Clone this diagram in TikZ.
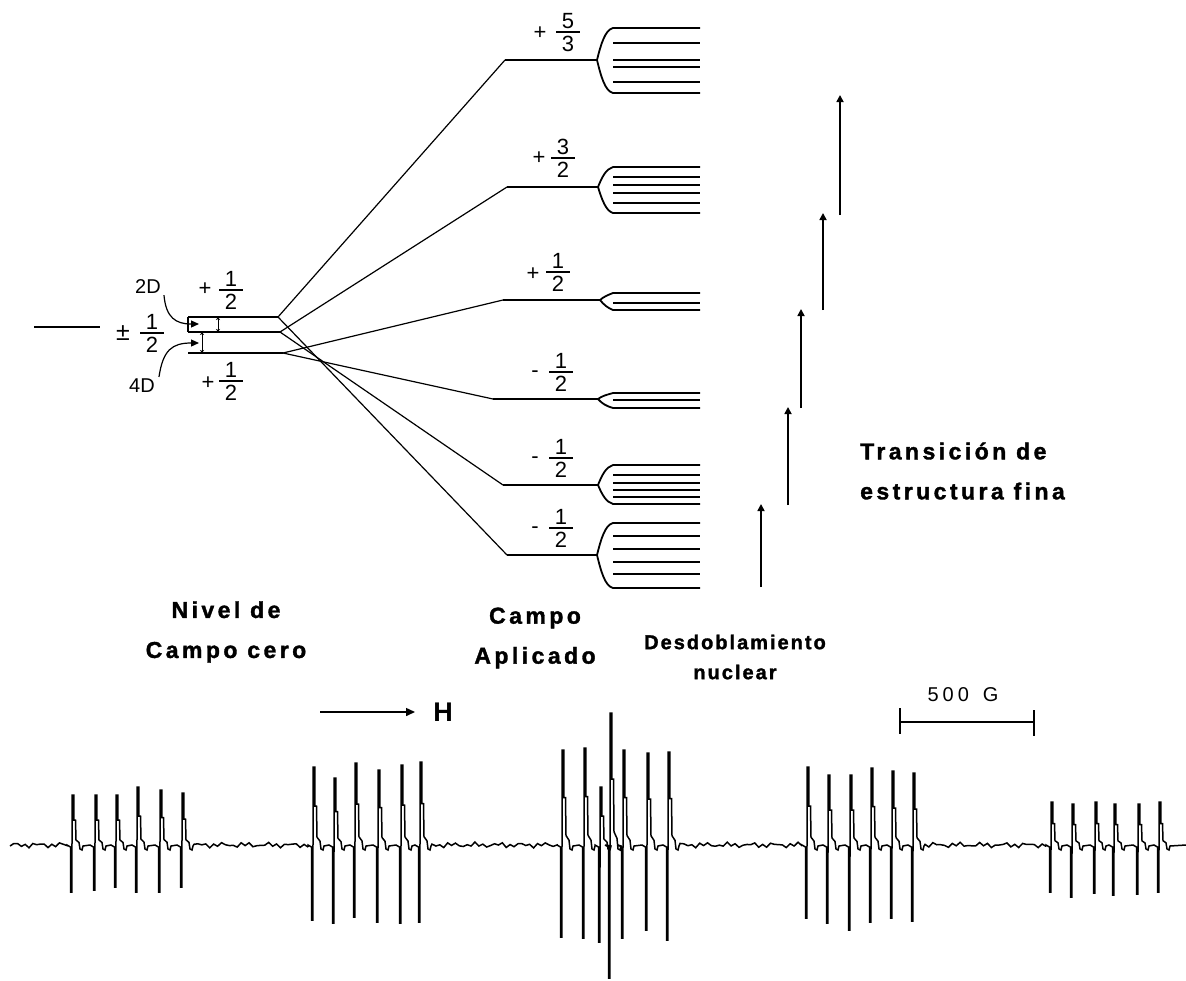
\documentclass[tikz,border=0pt]{standalone}
\usepackage{fontspec}
\setmainfont{Liberation Sans}
\newfontfamily\boldlbl[LetterSpace=15,FakeBold=1.5]{Liberation Sans Bold}
\newfontfamily\boldsm[LetterSpace=10,FakeBold=1.5]{Liberation Sans Bold}
\newfontfamily\hfont{Liberation Sans Bold}
\newfontfamily\widefont[LetterSpace=20]{Liberation Sans}
\usetikzlibrary{arrows.meta}
\newcommand\frc[5]{%
  \node[dig] (#1n) at (#2,{#3-11}) {#4};
  \node[dig] (#1d) at (#2,{#3+12}) {#5};
  \draw[fbar] ({#2-12},#3) -- ({#2+12},#3);}
\newcommand\fan[6]{%
  \coordinate (#1) at (#2,#3);
  \draw[hf] (#1) .. controls ({#2+4},{#3-0.5*(#3-#4)}) and ({#2+8},{#4+2}) .. (613,#4) -- (700,#4);
  \draw[hf] (#1) .. controls ({#2+4},{#3+0.5*(#5-#3)}) and ({#2+8},{#5-2}) .. (613,#5) -- (700,#5);
  \foreach \yy in {#6} {\draw[hf] (613,\yy) -- (700,\yy);}}
\def\B{845}
\def\nz{\B+1.8*sin(mod(\x,9)*40)+1.2*sin(mod(\x,23)*15.65+30)}
\begin{document}
\begin{tikzpicture}[x=1pt,y=-1pt,
  lvl/.style={line width=1.7pt},
  diag/.style={line width=1.2pt},
  hf/.style={line width=1.8pt},
  fbar/.style={line width=1.3pt},
  tarr/.style={line width=1.6pt,-{Triangle[length=7pt,width=7pt]}},
  carr/.style={line width=1.2pt,-{Triangle[length=8pt,width=7pt]}},
  dimm/.style={line width=1pt,{Stealth[length=3pt,width=4pt]}-{Stealth[length=3pt,width=4pt]}},
  lbl/.style={font=\boldlbl\fontsize{23}{40}\selectfont,inner sep=0pt,align=center},
  lblsm/.style={font=\boldsm\fontsize{20}{30}\selectfont,inner sep=0pt,align=center},
  dig/.style={font=\fontsize{22}{22}\selectfont,inner sep=0pt},
  num/.style={font=\fontsize{20}{20}\selectfont,inner sep=0pt},
  spec/.style={line width=1.5pt,line join=miter,miter limit=2},
]
\fill[white] (0,0) rectangle (1186,980);
\useasboundingbox (0,0) rectangle (1186,980);

% ---------- zero field ----------
\coordinate (Z0a) at (34,327); \coordinate (Z0b) at (100,327);
\draw[lvl] (Z0a) -- (Z0b);
\node[font=\fontsize{25}{25}\selectfont,inner sep=0pt] (pm) at (123,333) {±};
\frc{fz}{152}{333}{1}{2}

\coordinate (ZTa) at (188,317); \coordinate (ZTb) at (278,317);
\coordinate (ZMa) at (188,332); \coordinate (ZMb) at (280,332);
\coordinate (ZBa) at (188,353); \coordinate (ZBb) at (283,353);
\draw[lvl] (ZTa) -- (ZTb);
\draw[lvl] (ZMa) -- (ZMb);
\draw[lvl] (ZBa) -- (ZBb);
\draw[line width=1.3pt] (ZTa) -- (ZMa);
\coordinate (d1a) at (218,317); \coordinate (d1b) at (218,332);
\coordinate (d2a) at (202,332); \coordinate (d2b) at (202,353);
\draw[dimm] (d1a) -- (d1b);
\draw[dimm] (d2a) -- (d2b);

\node[dig] (pt) at (205,289) {+};
\frc{ft}{231}{290}{1}{2}
\node[dig] (pb) at (208,383) {+};
\frc{fb}{231}{381}{1}{2}

\node[num] (l2D) at (148,287) {2D};
\node[num] (l4D) at (142,386) {4D};
\coordinate (g2D) at (199,324);
\coordinate (g4D) at (199,343);
\draw[carr] ([xshift=3pt,yshift=-1pt]l2D.south east) .. controls (166,318) and (176,324) .. (g2D);
\draw[carr] ([xshift=4pt,yshift=2pt]l4D.north east) .. controls (163,350) and (172,343) .. (g4D);

% ---------- applied field levels ----------
\coordinate (L1a) at (505,60);  \coordinate (L1b) at (597,60);
\coordinate (L2a) at (507,187); \coordinate (L2b) at (598,187);
\coordinate (L3a) at (503,300); \coordinate (L3b) at (600,300);
\coordinate (L4a) at (493,399); \coordinate (L4b) at (598,399);
\coordinate (L5a) at (503,485); \coordinate (L5b) at (598,485);
\coordinate (L6a) at (507,555); \coordinate (L6b) at (597,555);
\foreach \i in {1,...,6} {\draw[lvl] (L\i a) -- (L\i b);}

\draw[diag] (ZTb) -- (L1a);
\draw[diag] (ZMb) -- (L2a);
\draw[diag] (ZBb) -- (L3a);
\draw[diag] (ZBb) -- (L4a);
\draw[diag] (ZMb) -- (L5a);
\draw[diag] (ZTb) -- (L6a);

% labels
\node[dig] (s1) at (540,33) {+};  \frc{f1}{568}{32}{5}{3}
\node[dig] (s2) at (539,158) {+}; \frc{f2}{563}{158}{3}{2}
\node[dig] (s3) at (533,274) {+}; \frc{f3}{558}{272}{1}{2}
\node[dig] (s4) at (535,374) {-}; \frc{f4}{561}{372}{1}{2}
\node[dig] (s5) at (535,460) {-}; \frc{f5}{561}{458}{1}{2}
\node[dig] (s6) at (535,530) {-}; \frc{f6}{561}{528}{1}{2}

% ---------- nuclear splitting ----------
\fan{F1}{597}{60}{28}{93}{43,60,67,82}
\fan{F2}{598}{187}{167}{213}{177,185,193,203}
\fan{F3}{600}{300}{293}{310}{303}
\fan{F4}{598}{399}{393}{408}{400}
\fan{F5}{598}{485}{465}{504}{475,483,490,497}
\fan{F6}{597}{555}{523}{588}{536,549,562,574}

% ---------- fine structure transitions ----------
\coordinate (T1a) at (761,587); \coordinate (T1b) at (761,504);
\coordinate (T2a) at (788,505); \coordinate (T2b) at (788,407);
\coordinate (T3a) at (801,408); \coordinate (T3b) at (801,309);
\coordinate (T4a) at (823,310); \coordinate (T4b) at (823,213);
\coordinate (T5a) at (840,215); \coordinate (T5b) at (840,95);
\foreach \i in {1,...,5} {\draw[tarr] (T\i a) -- (T\i b);}

\node[lbl,anchor=west,align=left] (tfe) at (860,471) {Transición de\\estructura fina};
\node[lbl] (nzc) at (226,632) {Nivel de\\Campo cero};
\node[lbl] (cap) at (535,638) {Campo\\Aplicado};
\node[lblsm] (dnu) at (735,657) {Desdoblamiento\\nuclear};

% ---------- field arrow and scale ----------
\coordinate (Ha) at (320,712); \coordinate (Hb) at (415,712);
\draw[line width=1.5pt,-{Triangle[length=9pt,width=8pt]}] (Ha) -- (Hb);
\node[font=\hfont\fontsize{27}{27}\selectfont,inner sep=0pt] (H) at (443,712) {H};

\coordinate (S1) at (900,722); \coordinate (S2) at (1034,722);
\coordinate (S1t) at (900,708); \coordinate (S1b) at (900,734);
\coordinate (S2t) at (1034,710); \coordinate (S2b) at (1034,736);
\draw[line width=1.5pt] (S1) -- (S2);
\draw[line width=1.5pt] (S1t) -- (S1b);
\draw[line width=1.5pt] (S2t) -- (S2b);
\node[font=\widefont\fontsize{20}{20}\selectfont,inner sep=0pt] (sbl) at (963,695) {500\hspace{0.7em}G};

% ---------- spectrum ----------
\def\pulses#1{\foreach \px/\pt/\pd in {#1}
   { -- ({\px-6},\B) -- ({\px-2.5},{\B+2}) -- ({\px-2.5},\pd) -- ({\px-1.2},\pd) -- ({\px-0.8},\pt) -- ({\px+0.8},\pt)
     -- ({\px+0.8},{\B-0.5*(\B-\pt)}) -- ({\px+2.5},{\B-0.5*(\B-\pt)}) -- ({\px+3},{\B-0.1*(\B-\pt)})
     -- ({\px+6},{\B-0.05*(\B-\pt)}) -- ({\px+7},{\B+4}) -- ({\px+9},{\B+5}) -- ({\px+10},{\B+1}) }}
\draw[spec]
  plot[domain=10:67,samples=16] (\x,{\nz})
  \pulses{73/795/892,96/795/890,117/795/887,138/787/892,161/790/892,183/793/887}
  -- plot[domain=194:308,samples=30] (\x,{\nz})
  \pulses{314/767/920,335/778/923,356/763/917,379/770/922,402/765/923,421/762/922}
  -- plot[domain=432:557,samples=33] (\x,{\nz})
  \pulses{563/750/937,585/748/938,601/787/942,611/713/978,624/750/938,648/753/930,669/752/940}
  -- plot[domain=680:802,samples=32] (\x,{\nz})
  \pulses{808/767/918,829/775/923,851/775/930,872/768/922,893/771/918,914/773/921}
  -- plot[domain=925:1046,samples=32] (\x,{\nz})
  \pulses{1052/802/892,1073/804/897,1096/802/893,1115/804/895,1139/804/894,1160/802/892}
  -- (1186,\B);
\end{tikzpicture}
\end{document}
